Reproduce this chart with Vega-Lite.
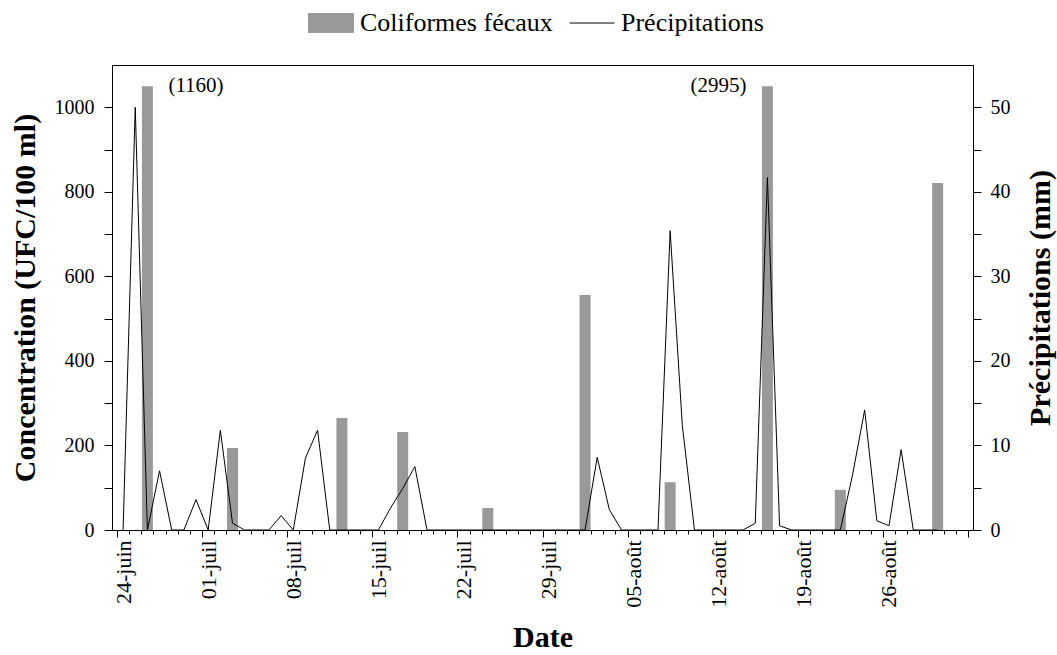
{
  "$schema": "https://vega.github.io/schema/vega-lite/v6.json",
  "width": 861,
  "height": 465,
  "autosize": {"type": "none"},
  "padding": {"left": 112, "top": 65, "right": 84, "bottom": 125},
  "background": "white",
  "config": {
    "font": "Liberation Serif",
    "view": {"stroke": "black", "strokeWidth": 1},
    "axis": {
      "domainColor": "black", "tickColor": "black", "labelColor": "black", "titleColor": "black",
      "grid": false, "labelFont": "Liberation Serif", "titleFont": "Liberation Serif",
      "labelFontSize": 20, "titleFontSize": 30, "titleFontWeight": "bold",
      "domainWidth": 1, "tickWidth": 1
    },
    "text": {"font": "Liberation Serif"}
  },
  "datasets": {
    "coliformes": [
      {"date": "2000-06-26T12:00:00", "concentration": 1050, "reelle": 1160, "label": "(1160)"},
      {"date": "2000-07-03T12:00:00", "concentration": 194},
      {"date": "2000-07-12T12:00:00", "concentration": 265},
      {"date": "2000-07-17T12:00:00", "concentration": 232},
      {"date": "2000-07-24T12:00:00", "concentration": 52},
      {"date": "2000-08-01T12:00:00", "concentration": 556},
      {"date": "2000-08-08T12:00:00", "concentration": 113},
      {"date": "2000-08-16T12:00:00", "concentration": 1050, "reelle": 2995, "label": "(2995)"},
      {"date": "2000-08-22T12:00:00", "concentration": 95},
      {"date": "2000-08-30T12:00:00", "concentration": 821}
    ],
    "precipitations": [
      {"date": "2000-06-24T12:00:00", "precipitation": 0},
      {"date": "2000-06-25T12:00:00", "precipitation": 50},
      {"date": "2000-06-26T12:00:00", "precipitation": 0},
      {"date": "2000-06-27T12:00:00", "precipitation": 7.0},
      {"date": "2000-06-28T12:00:00", "precipitation": 0},
      {"date": "2000-06-29T12:00:00", "precipitation": 0},
      {"date": "2000-06-30T12:00:00", "precipitation": 3.6},
      {"date": "2000-07-01T12:00:00", "precipitation": 0},
      {"date": "2000-07-02T12:00:00", "precipitation": 11.8},
      {"date": "2000-07-03T12:00:00", "precipitation": 0.8},
      {"date": "2000-07-04T12:00:00", "precipitation": 0},
      {"date": "2000-07-05T12:00:00", "precipitation": 0},
      {"date": "2000-07-06T12:00:00", "precipitation": 0},
      {"date": "2000-07-07T12:00:00", "precipitation": 1.7},
      {"date": "2000-07-08T12:00:00", "precipitation": 0},
      {"date": "2000-07-09T12:00:00", "precipitation": 8.5},
      {"date": "2000-07-10T12:00:00", "precipitation": 11.8},
      {"date": "2000-07-11T12:00:00", "precipitation": 0},
      {"date": "2000-07-12T12:00:00", "precipitation": 0},
      {"date": "2000-07-13T12:00:00", "precipitation": 0},
      {"date": "2000-07-14T12:00:00", "precipitation": 0},
      {"date": "2000-07-15T12:00:00", "precipitation": 0},
      {"date": "2000-07-16T12:00:00", "precipitation": 2.6},
      {"date": "2000-07-17T12:00:00", "precipitation": 4.9},
      {"date": "2000-07-18T12:00:00", "precipitation": 7.5},
      {"date": "2000-07-19T12:00:00", "precipitation": 0},
      {"date": "2000-07-20T12:00:00", "precipitation": 0},
      {"date": "2000-07-21T12:00:00", "precipitation": 0},
      {"date": "2000-07-22T12:00:00", "precipitation": 0},
      {"date": "2000-07-23T12:00:00", "precipitation": 0},
      {"date": "2000-07-24T12:00:00", "precipitation": 0},
      {"date": "2000-07-25T12:00:00", "precipitation": 0},
      {"date": "2000-07-26T12:00:00", "precipitation": 0},
      {"date": "2000-07-27T12:00:00", "precipitation": 0},
      {"date": "2000-07-28T12:00:00", "precipitation": 0},
      {"date": "2000-07-29T12:00:00", "precipitation": 0},
      {"date": "2000-07-30T12:00:00", "precipitation": 0},
      {"date": "2000-07-31T12:00:00", "precipitation": 0},
      {"date": "2000-08-01T12:00:00", "precipitation": 0},
      {"date": "2000-08-02T12:00:00", "precipitation": 8.6},
      {"date": "2000-08-03T12:00:00", "precipitation": 2.4},
      {"date": "2000-08-04T12:00:00", "precipitation": 0},
      {"date": "2000-08-05T12:00:00", "precipitation": 0},
      {"date": "2000-08-06T12:00:00", "precipitation": 0},
      {"date": "2000-08-07T12:00:00", "precipitation": 0},
      {"date": "2000-08-08T12:00:00", "precipitation": 35.4},
      {"date": "2000-08-09T12:00:00", "precipitation": 12.4},
      {"date": "2000-08-10T12:00:00", "precipitation": 0},
      {"date": "2000-08-11T12:00:00", "precipitation": 0},
      {"date": "2000-08-12T12:00:00", "precipitation": 0},
      {"date": "2000-08-13T12:00:00", "precipitation": 0},
      {"date": "2000-08-14T12:00:00", "precipitation": 0},
      {"date": "2000-08-15T12:00:00", "precipitation": 0.8},
      {"date": "2000-08-16T12:00:00", "precipitation": 41.7},
      {"date": "2000-08-17T12:00:00", "precipitation": 0.5},
      {"date": "2000-08-18T12:00:00", "precipitation": 0},
      {"date": "2000-08-19T12:00:00", "precipitation": 0},
      {"date": "2000-08-20T12:00:00", "precipitation": 0},
      {"date": "2000-08-21T12:00:00", "precipitation": 0},
      {"date": "2000-08-22T12:00:00", "precipitation": 0},
      {"date": "2000-08-23T12:00:00", "precipitation": 6.5},
      {"date": "2000-08-24T12:00:00", "precipitation": 14.2},
      {"date": "2000-08-25T12:00:00", "precipitation": 1.1},
      {"date": "2000-08-26T12:00:00", "precipitation": 0.5},
      {"date": "2000-08-27T12:00:00", "precipitation": 9.5},
      {"date": "2000-08-28T12:00:00", "precipitation": 0},
      {"date": "2000-08-29T12:00:00", "precipitation": 0},
      {"date": "2000-08-30T12:00:00", "precipitation": 0}
    ]
  },
  "encoding": {
    "x": {
      "field": "date",
      "type": "temporal",
      "scale": {"domain": [{"year": 2000, "month": 6, "date": 24}, {"year": 2000, "month": 9, "date": 2}]},
      "axis": {
        "title": "Date",
        "tickCount": {"interval": "day", "step": 1},
        "tickSize": {"condition": {"test": "round((datum.value - datetime(2000,5,24)) / 86400000) % 7 === 0", "value": 7}, "value": 4},
        "labelExpr": "(round((datum.value - datetime(2000,5,24)) / 86400000) % 7 === 0 && datum.value < datetime(2000,7,31)) ? timeFormat(datum.value, '%d') + '-' + (month(datum.value) === 5 ? 'juin' : month(datum.value) === 6 ? 'juil' : 'août') : ''",
        "labelFontSize": 22,
        "labelAngle": -90,
        "labelAlign": "right",
        "labelBaseline": "middle",
        "labelOffset": 6,
        "labelPadding": 3,
        "labelOverlap": false,
        "labelFlush": false,
        "labelBound": false,
        "titleX": 430.5,
        "titleY": 116,
        "titleBaseline": "alphabetic",
        "titleAlign": "center"
      }
    }
  },
  "layer": [
    {
      "data": {"name": "coliformes"},
      "encoding": {
        "y": {
          "field": "concentration",
          "type": "quantitative",
          "scale": {"domain": [0, 1100], "nice": false},
          "axis": {
            "orient": "left",
            "title": "Concentration (UFC/100 ml)",
            "values": [0, 100, 200, 300, 400, 500, 600, 700, 800, 900, 1000],
            "labelExpr": "datum.value % 200 === 0 ? format(datum.value, 'd') : ''",
            "tickSize": 8,
            "labelPadding": 10,
            "titleAngle": -90,
            "titleX": -78,
            "titleY": 232.5,
            "titleAlign": "center",
            "titleBaseline": "alphabetic"
          }
        }
      },
      "layer": [
        {
          "mark": {"type": "bar", "size": 11},
          "encoding": {
            "color": {
              "datum": "Coliformes fécaux",
              "type": "nominal",
              "scale": {"domain": ["Coliformes fécaux", "Précipitations"], "range": ["#999999", "#000000"]},
              "legend": {
                "title": null,
                "orient": "none",
                "direction": "horizontal",
                "legendX": 196,
                "legendY": -65,
                "padding": 0,
                "symbolSize": 2025,
                "labelFont": "Liberation Serif",
                "labelFontSize": 26,
                "labelColor": "black",
                "labelLimit": 0,
                "labelOffset": 6,
                "columnPadding": 14,
                "encode": {
                  "symbols": {
                    "update": {
                      "shape": {"signal": "datum.value === 'Précipitations' ? 'stroke' : 'M-1,-0.42H1V0.42H-1Z'"},
                      "fill": {"signal": "datum.value === 'Précipitations' ? 'transparent' : '#999999'"},
                      "stroke": {"signal": "datum.value === 'Précipitations' ? '#000000' : 'transparent'"},
                      "strokeWidth": {"value": 1},
                      "opacity": {"value": 1},
                      "fillOpacity": {"value": 1}
                    }
                  }
                }
              }
            }
          }
        },
        {
          "transform": [{"filter": "datum.reelle === 1160"}],
          "mark": {"type": "text", "align": "left", "baseline": "middle", "dx": 21, "fontSize": 21, "color": "black"},
          "encoding": {"text": {"field": "label"}}
        },
        {
          "transform": [{"filter": "datum.reelle === 2995"}],
          "mark": {"type": "text", "align": "right", "baseline": "middle", "dx": -21, "fontSize": 21, "color": "black"},
          "encoding": {"text": {"field": "label"}}
        }
      ]
    },
    {
      "data": {"name": "precipitations"},
      "mark": {"type": "line", "strokeWidth": 1},
      "encoding": {
        "y": {
          "field": "precipitation",
          "type": "quantitative",
          "scale": {"domain": [0, 55], "nice": false},
          "axis": {
            "orient": "right",
            "title": "Précipitations (mm)",
            "values": [0, 5, 10, 15, 20, 25, 30, 35, 40, 45, 50],
            "labelExpr": "datum.value % 10 === 0 ? datum.label : ''",
            "tickSize": 8,
            "labelPadding": 9,
            "titleAngle": -90,
            "titleX": 76,
            "titleY": 232.5,
            "titleAlign": "center",
            "titleBaseline": "alphabetic"
          }
        },
        "color": {"datum": "Précipitations", "type": "nominal"}
      }
    }
  ],
  "resolve": {"scale": {"y": "independent"}}
}
